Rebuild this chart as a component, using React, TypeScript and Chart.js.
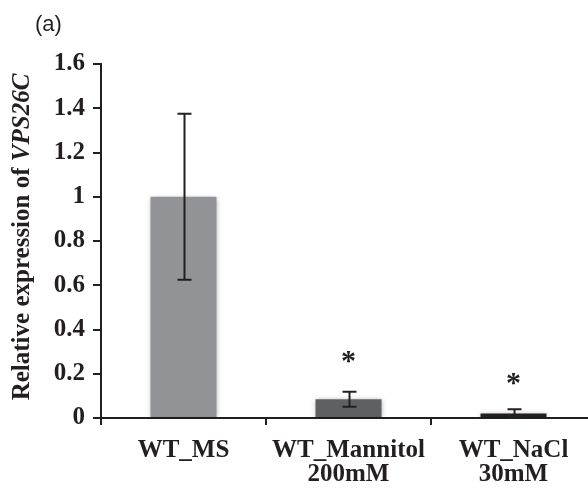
import React, { useEffect, useRef } from "react";
import { Chart, registerables } from "chart.js";

Chart.register(...registerables);

const categories: string[][] = [["WT_MS"], ["WT_Mannitol", "200mM"], ["WT_NaCl", "30mM"]];
const values: number[] = [1.0, 0.085, 0.02];
const errors: number[] = [0.375, 0.034, 0.02];
const barColors: string[] = ["#929396", "#5f6062", "#231f20"];
const significance: string[] = ["", "*", "*"];
const significanceY: (number | null)[] = [null, 0.29, 0.19];
const yTickValues: number[] = [0, 0.2, 0.4, 0.6, 0.8, 1, 1.2, 1.4, 1.6];
const yTickLabels: string[] = ["0", "0.2", "0.4", "0.6", "0.8", "1", "1.2", "1.4", "1.6"];
const panelLabel = "(a)";
const yTitlePlain = "Relative expression of ";
const yTitleItalic = "VPS26C";

const INK = "#231f20";
const SERIF = "'Liberation Serif', 'Times New Roman', serif";

const shadowPlugin = {
  id: "barShadow",
  beforeDatasetsDraw(chart: any) {
    const ctx = chart.ctx;
    ctx.save();
    ctx.shadowColor = "rgba(0,0,0,0.35)";
    ctx.shadowBlur = 5;
    ctx.shadowOffsetX = 0;
    ctx.shadowOffsetY = 1;
  },
  afterDatasetsDraw(chart: any) {
    chart.ctx.restore();
  },
};

const errorBarPlugin = {
  id: "errorBars",
  afterDatasetsDraw(chart: any) {
    const ctx = chart.ctx;
    const meta = chart.getDatasetMeta(0);
    const y = chart.scales.y;
    ctx.save();
    ctx.strokeStyle = INK;
    ctx.lineWidth = 2;
    meta.data.forEach((bar: any, i: number) => {
      const x = Math.round(bar.x) + 0.5;
      const hi = y.getPixelForValue(values[i] + errors[i]);
      const lo = y.getPixelForValue(Math.max(0, values[i] - errors[i]));
      const cap = 7;
      ctx.beginPath();
      ctx.moveTo(x, lo);
      ctx.lineTo(x, hi);
      ctx.moveTo(x - cap, hi);
      ctx.lineTo(x + cap, hi);
      ctx.moveTo(x - cap, lo);
      ctx.lineTo(x + cap, lo);
      ctx.stroke();
    });
    ctx.restore();
  },
};

const annotationPlugin = {
  id: "annotations",
  afterDraw(chart: any) {
    const ctx = chart.ctx;
    const meta = chart.getDatasetMeta(0);
    const y = chart.scales.y;
    const area = chart.chartArea;
    ctx.save();
    // significance marks
    ctx.fillStyle = INK;
    ctx.font = `bold 30px ${SERIF}`;
    ctx.textAlign = "center";
    ctx.textBaseline = "alphabetic";
    meta.data.forEach((bar: any, i: number) => {
      const sy = significanceY[i];
      if (!significance[i] || sy === null) return;
      ctx.fillText(significance[i], bar.x, y.getPixelForValue(sy) + 16);
    });
    // panel label
    ctx.font = "22px 'Liberation Sans', Arial, sans-serif";
    ctx.textAlign = "left";
    ctx.fillText(panelLabel, 35, 31);
    // y axis title with italic gene name
    const plainFont = `bold 25px ${SERIF}`;
    const italFont = `italic bold 25px ${SERIF}`;
    ctx.font = plainFont;
    const w1 = ctx.measureText(yTitlePlain).width;
    ctx.font = italFont;
    const w2 = ctx.measureText(yTitleItalic).width;
    const total = w1 + w2;
    const cy = (area.top + area.bottom) / 2 - 4;
    ctx.translate(29, cy);
    ctx.rotate(-Math.PI / 2);
    ctx.textAlign = "left";
    ctx.font = plainFont;
    ctx.fillText(yTitlePlain, -total / 2, 0);
    ctx.font = italFont;
    ctx.fillText(yTitleItalic, -total / 2 + w1, 0);
    ctx.restore();
  },
};

export default function App() {
  const ref = useRef<HTMLCanvasElement | null>(null);

  useEffect(() => {
    if (!ref.current) return;
    const chart = new Chart(ref.current, {
      type: "bar",
      data: {
        labels: categories,
        datasets: [
          {
            data: values,
            backgroundColor: barColors,
            borderWidth: 0,
            barPercentage: 0.4,
            categoryPercentage: 1.0,
          },
        ],
      },
      options: {
        animation: false,
        responsive: false,
        devicePixelRatio: 1,
        layout: { padding: { left: 0, top: 64, right: 0, bottom: 0 } },
        plugins: {
          legend: { display: false },
          tooltip: { enabled: false },
          title: { display: false },
        },
        scales: {
          x: {
            grid: {
              display: true,
              drawOnChartArea: false,
              drawTicks: true,
              tickLength: 7,
              color: INK,
              lineWidth: 2,
              offset: true,
            },
            border: { display: true, color: INK, width: 2 },
            ticks: {
              color: INK,
              font: { family: SERIF, size: 25, weight: "bold", lineHeight: "24px" },
              padding: 14,
              maxRotation: 0,
              autoSkip: false,
            },
            afterFit: (scale: any) => {
              scale.height = 71;
            },
          },
          y: {
            min: 0,
            max: 1.6,
            afterBuildTicks: (scale: any) => {
              scale.ticks = yTickValues.map((v) => ({ value: v }));
            },
            grid: {
              display: true,
              drawOnChartArea: false,
              drawTicks: true,
              tickLength: 8,
              color: INK,
              lineWidth: 2,
            },
            border: { display: true, color: INK, width: 2 },
            ticks: {
              color: INK,
              font: { family: SERIF, size: 25, weight: "bold" },
              padding: 8,
              callback: (_v: any, i: number) => yTickLabels[i],
            },
            afterFit: (scale: any) => {
              scale.width = 101;
            },
          },
        },
      },
      plugins: [shadowPlugin, errorBarPlugin, annotationPlugin],
    });
    return () => chart.destroy();
  }, []);

  return (
    <div
      style={{
        position: "absolute",
        left: 0,
        top: 0,
        width: 588,
        height: 489,
        overflow: "hidden",
        background: "#ffffff",
      }}
    >
      <canvas ref={ref} width={596} height={489} style={{ display: "block" }} />
    </div>
  );
}
